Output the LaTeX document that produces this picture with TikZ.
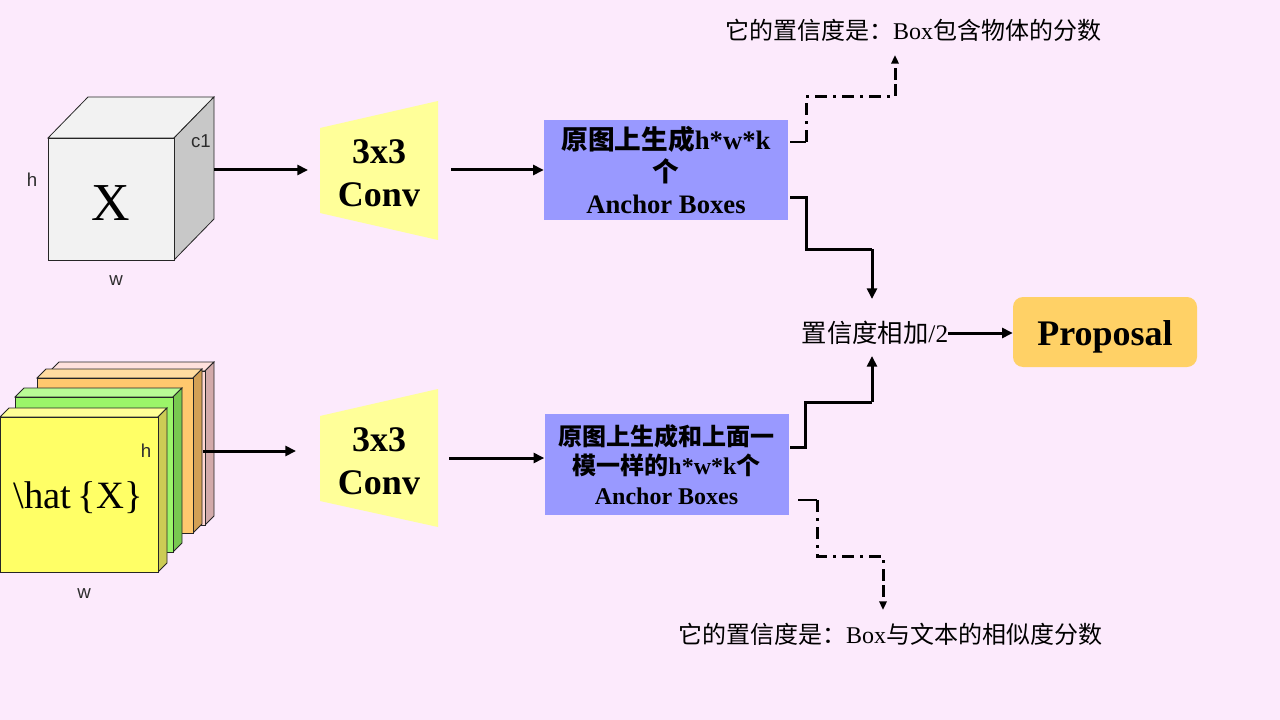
\documentclass[tikz,border=0pt]{standalone}
\usepackage{fontspec}
\setmainfont{Liberation Serif}
\newfontfamily\cjk{Noto Sans CJK SC}
\newfontfamily\lsans{Liberation Sans}
\usetikzlibrary{arrows.meta}
\definecolor{bgc}{RGB}{252,234,252}
\definecolor{boxblue}{RGB}{153,153,255}
\definecolor{convy}{RGB}{255,255,153}
\definecolor{propc}{RGB}{255,209,102}
\definecolor{cubef}{RGB}{242,242,242}
\definecolor{cubes}{RGB}{200,200,200}
\definecolor{yelf}{RGB}{255,255,102}
\definecolor{yelt}{RGB}{255,255,150}
\definecolor{yels}{RGB}{204,204,85}
\definecolor{grnf}{RGB}{155,245,105}
\definecolor{grnt}{RGB}{185,250,150}
\definecolor{grns}{RGB}{120,200,80}
\definecolor{orgf}{RGB}{255,200,110}
\definecolor{orgt}{RGB}{255,220,160}
\definecolor{orgs}{RGB}{210,160,85}
\definecolor{pnkf}{RGB}{255,215,210}
\definecolor{pnkt}{RGB}{255,225,220}
\definecolor{pnks}{RGB}{210,170,170}
\definecolor{lblc}{RGB}{45,45,45}
\newcommand\zh[1]{{\cjk #1}}
\newcommand\zhb[1]{{\cjk\bfseries #1}}
\newcommand\slab[7]{%
  \filldraw[edge,fill=#6] (#1,#2) -- (#1+9,#2-9) -- (#3+9,#2-9) -- (#3,#2) -- cycle;
  \filldraw[edge,fill=#7] (#3,#2) -- (#3+9,#2-9) -- (#3+9,#4-9) -- (#3,#4) -- cycle;
  \filldraw[edge,fill=#5] (#1,#2) rectangle (#3,#4);
}
\begin{document}
\begin{tikzpicture}[x=0.75pt,y=-0.75pt,
  arr/.style={line width=2.25pt,-{Triangle[length=8pt,width=7.5pt]}},
  solidl/.style={line width=2.25pt},
  ddash/.style={line width=2.25pt,dash pattern=on 9pt off 4.5pt on 2.25pt off 4.5pt},
  ddarr/.style={ddash,-{Triangle[length=6.5pt,width=5.5pt]}},
  thinl/.style={line width=0.9pt},
  edge/.style={draw=black!85,line width=0.6pt},
  abox/.style={fill=boxblue,minimum width=183pt,minimum height=75pt,inner sep=0pt,align=center},
  convtxt/.style={font=\fontsize{27}{32}\selectfont\bfseries,align=center,inner sep=0pt},
  lbl/.style={font=\lsans\fontsize{14}{16}\selectfont,text=lblc,inner sep=0pt},
  ann/.style={font=\fontsize{18}{22}\selectfont,inner sep=0pt}
]
\useasboundingbox (0,0) rectangle (1280,720);
\fill[bgc] (0,0) rectangle (1280,720);

% cube X
\filldraw[edge,fill=cubef] (48,138) -- (88,97) -- (214,97) -- (174,138) -- cycle;
\filldraw[edge,fill=cubes] (174,138) -- (214,97) -- (214,219) -- (174,260) -- cycle;
\filldraw[edge,fill=cubef] (48,138) rectangle (174,260);
\node[font=\fontsize{40}{48}\selectfont,inner sep=0pt] (xlab) at (111,203) {X};
\node[lbl] (c1) at (201,141) {c1};
\node[lbl] (h1) at (32,180) {h};
\node[lbl] (w1) at (116,281) {w};
\coordinate (cubeout) at (214,170);

% stack hat X
\slab{50}{371}{205}{525}{pnkf}{pnkt}{pnks}
\slab{37}{378}{193}{533}{orgf}{orgt}{orgs}
\slab{15}{397}{173}{552}{grnf}{grnt}{grns}
\slab{0}{417}{158}{572}{yelf}{yelt}{yels}
\node[font=\fontsize{29}{34}\selectfont,inner sep=0pt] (hx) at (78,498) {\textbackslash hat\,\{X\}};
\node[lbl] (h2) at (146,451) {h};
\node[lbl] (w2) at (84,594) {w};
\coordinate (stackout) at (203,451);

% conv blocks
\fill[convy] (320,128) -- (438,101) -- (438,240) -- (320,213) -- cycle;
\node[convtxt] (conv1) at (379,173) {3x3\\Conv};
\fill[convy] (320,416) -- (438,389) -- (438,527) -- (320,501) -- cycle;
\node[convtxt] (conv2) at (379,461) {3x3\\Conv};

% anchor boxes
\node[abox,font=\fontsize{20}{24}\selectfont] (box1) at (666,170)
  {\zhb{原图上生成}\textbf{h*w*k}\\\zhb{个}\\\textbf{Anchor Boxes}};
\node[abox,minimum height=75.75pt,font=\fontsize{18}{22}\selectfont] (box2) at (666.5,464.5)
  {\zhb{原图上生成和上面一}\\\zhb{模一样的}\textbf{h*w*k}\zhb{个}\\\textbf{Anchor Boxes}};

% main arrows
\coordinate (c1in) at (308,170);
\coordinate (c1out) at (451,170);
\coordinate (c2in) at (296,451);
\coordinate (c2out) at (449,458);
\draw[arr] (cubeout) -- (c1in);
\draw[arr] (c1out) -- (box1.west |- c1out);
\draw[arr] (stackout) -- (c2in);
\draw[arr] (c2out) -- (box2.west |- c2out);

% sum and proposal
\node[font=\fontsize{19}{23}\selectfont,inner sep=0pt] (sum) at (875,333) {\zh{置信度相加}/2};
\node[fill=propc,rounded corners=7.5pt,minimum width=138pt,minimum height=52.5pt,inner sep=0pt] (prop) at (1105,332) {};
\node[font=\fontsize{27}{32}\selectfont\bfseries,inner sep=0pt] (proptxt) at ([yshift=-3.5pt]prop.center) {Proposal};
\draw[arr] (sum.east) -- (sum.east -| prop.west);

\coordinate (sumtop) at (872,299);
\coordinate (sumbot) at (872,356);
\coordinate (b1a) at (790,198);
\coordinate (b2a) at (790,447);
\draw[solidl] (b1a) -- (806,198) -- (806,249) -- (872,249);
\draw[arr] (872,249) -- (sumtop);
\draw[solidl] (b2a) -- (805,447) -- (805,402) -- (872,402);
\draw[arr] (872,402) -- (sumbot);

% annotations
\node[ann] (ann1) at (913,30) {\zh{它的置信度是：}Box\zh{包含物体的分数}};
\node[ann] (ann2) at (890,634) {\zh{它的置信度是：}Box\zh{与文本的相似度分数}};
\coordinate (a1tip) at (895,55);
\coordinate (a2tip) at (883,610);
\coordinate (b1t) at (790,142);
\coordinate (b2t) at (798,500);
\draw[thinl] (b1t) -- (806,142);
\draw[ddash] (806,142) -- (806,97) -- (895,97) -- (895,80);
\draw[ddarr] (895,80) -- (a1tip);
\draw[thinl] (b2t) -- (817,500);
\draw[ddash] (817,500) -- (817,556) -- (883,556) -- (883,585);
\draw[ddarr] (883,585) -- (a2tip);
\end{tikzpicture}
\end{document}
